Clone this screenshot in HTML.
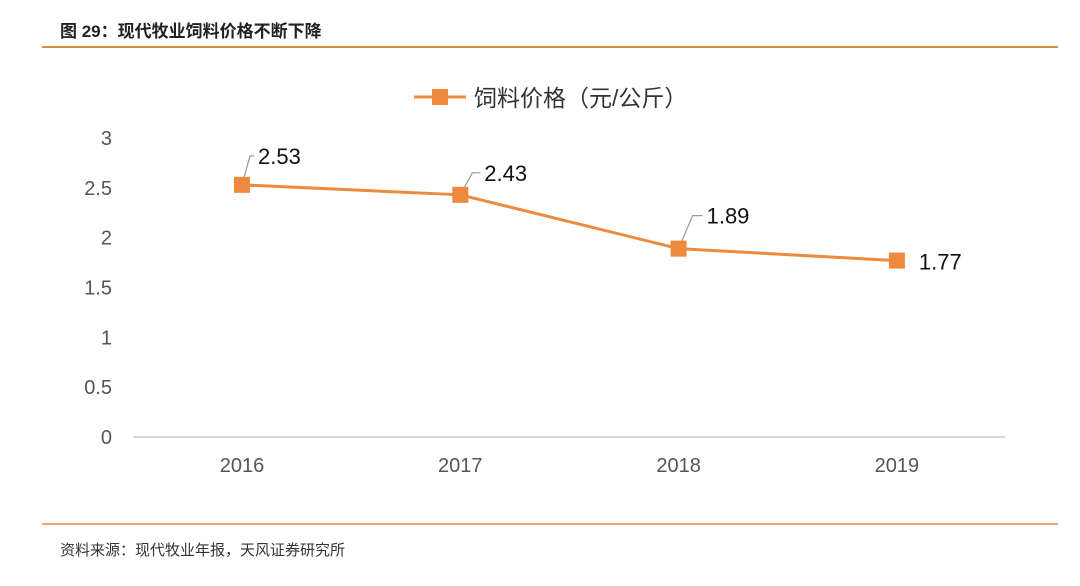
<!DOCTYPE html>
<html><head><meta charset="utf-8"><style>
body{margin:0;background:#fff;width:1080px;height:581px;overflow:hidden;font-family:"Liberation Sans","Noto Sans CJK SC",sans-serif;}
</style></head><body>
<svg width="1080" height="581" xmlns="http://www.w3.org/2000/svg" font-family="Liberation Sans, Noto Sans CJK SC, sans-serif">
<text x="60" y="37" font-size="17" font-weight="bold" fill="#222">图 29：现代牧业饲料价格不断下降</text>
<line x1="42" y1="47" x2="1058" y2="47" stroke="#e08a3c" stroke-width="2"/>
<g>
<line x1="414" y1="97" x2="466" y2="97" stroke="#ed8a3e" stroke-width="3"/>
<rect x="432" y="89" width="16" height="16" fill="#ed8a3e"/>
<text x="474" y="106" font-size="23" fill="#333">饲料价格（元/公斤）</text>
</g>
<g id="yaxis"></g>
<g id="xaxis"></g>
<g id="series"></g>
<line x1="42" y1="524" x2="1058" y2="524" stroke="#e08a3c" stroke-width="1.5"/>
<text x="60" y="555" font-size="15" fill="#333">资料来源：现代牧业年报，天风证券研究所</text>
</svg>
<script>
const categories=["2016","2017","2018","2019"];
const values=[2.53,2.43,1.89,1.77];
const yTicks=[0,0.5,1,1.5,2,2.5,3];
const NS="http://www.w3.org/2000/svg";
const y0=437,yTop=138,yMax=3;
const xs=i=>242+i*218.3;
const ys=v=>y0-(y0-yTop)*v/yMax;
function mk(t,a,p){const e=document.createElementNS(NS,t);for(const k in a)e.setAttribute(k,a[k]);p.appendChild(e);return e;}
const ya=document.getElementById('yaxis'),xa=document.getElementById('xaxis'),sr=document.getElementById('series');
yTicks.forEach(t=>{const e=mk('text',{x:112,y:ys(t)+7,'text-anchor':'end','font-size':20,fill:'#555'},ya);e.textContent=t;

});
const al=mk('line',{x1:133,y1:y0,x2:1005,y2:y0,stroke:'#ccc','stroke-width':1.5},xa);


categories.forEach((c,i)=>{const e=mk('text',{x:xs(i),y:472,'text-anchor':'middle','font-size':20,fill:'#555'},xa);e.textContent=c;

});
const pl=mk('polyline',{points:values.map((v,i)=>xs(i)+','+ys(v)).join(' '),fill:'none',stroke:'#ed8a3e','stroke-width':3},sr);


const offs=[[16,-29],[24,-22],[28,-33],[22,1]];
values.forEach((v,i)=>{const x=xs(i),y=ys(v);
if(i<3){const [dx,dy]=offs[i];const ld=mk('polyline',{points:`${x},${y} ${x+dx*0.5},${y+dy} ${x+dx-4},${y+dy}`,fill:'none',stroke:'#999','stroke-width':1.2},sr);

}
const m=mk('rect',{x:x-8,y:y-8,width:16,height:16,fill:'#ed8a3e'},sr);


const [dx,dy]=offs[i];
const t=mk('text',{x:x+dx,y:y+dy+8,'font-size':22,fill:'#111'},sr);t.textContent=v.toFixed(2);

});
</script>
</body></html>
